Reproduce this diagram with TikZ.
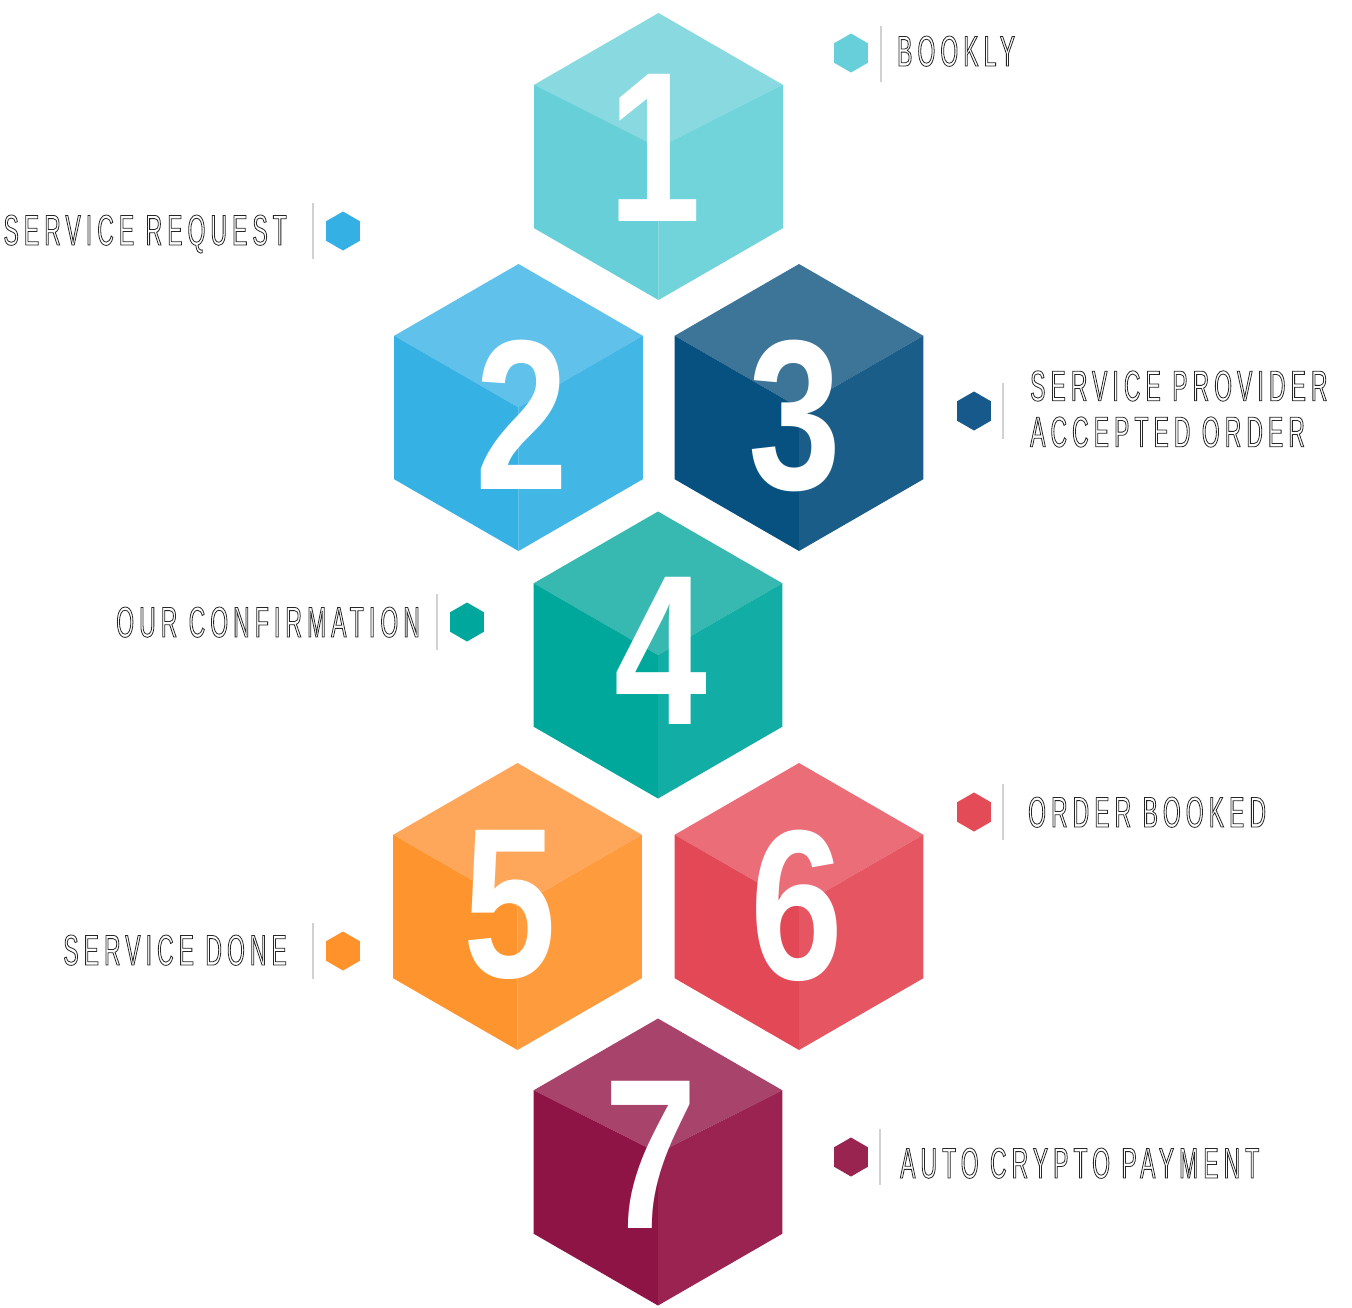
\documentclass[tikz,border=0pt]{standalone}
\usepackage{fontspec}
\usepackage{tikz}
\usetikzlibrary{shapes.geometric}
\newfontfamily\digitfont{Liberation Sans}[FakeStretch=0.78]
\newfontfamily\capfont{Liberation Sans}[FakeStretch=0.53, LetterSpace=12]
% white letters with a thin dark rim
\newcommand{\outlined}[1]{\special{pdf:literal direct 2 Tr 0.8 w 0.15 G}#1\special{pdf:literal direct 0 Tr}}

\definecolor{tealmark}{HTML}{66CFD9}
\definecolor{skymark}{HTML}{35B0E4}
\definecolor{navymark}{HTML}{17598A}
\definecolor{greenmark}{HTML}{00A79C}
\definecolor{orangemark}{HTML}{FF922B}
\definecolor{redmark}{HTML}{E34B56}
\definecolor{plummark}{HTML}{9A2450}

\begin{document}
\begin{tikzpicture}[x=1pt, y=-1pt,
    digit/.style={text=white, font=\digitfont\bfseries\fontsize{214}{214}\selectfont,
                  inner sep=0pt},
    caption/.style={text=white, font=\capfont\fontsize{43}{46}\selectfont,
                    inner sep=0pt, align=left},
    marker/.style={regular polygon, regular polygon sides=6, shape border rotate=90,
                   minimum size=39pt, inner sep=0pt},
    rule/.style={draw=black!18, line width=1.6pt}]
    \fill[white] (0,0) rectangle (1352,1307);
    \useasboundingbox (0,0) rectangle (1352,1307);

    % the seven cubes
    \foreach \cx/\cy/\dy/\ctop/\cleft/\cright in {
        658.5/156.5/-9/88D9E0/66CFD8/71D4DB,
        518.5/407.5/0/60C1EA/35B1E4/42B7E6,
        799/407.5/0/3D7598/075180/1A5D88,
        658/655/0/37B9B1/00A89C/12ADA5,
        517.5/906.5/0/FEA75A/FE942E/FE9C3D,
        799/906.5/0/EA6D78/E24855/E55662,
        658/1162/-9/A8446B/8F1446/9A2352} {
      \definecolor{facetop}{HTML}{\ctop}
      \definecolor{faceleft}{HTML}{\cleft}
      \definecolor{faceright}{HTML}{\cright}
      \fill[facetop] (\cx,\cy-143.5) -- (\cx+124.3,\cy-71.75) -- (\cx,\cy+\dy)
        -- (\cx-124.3,\cy-71.75) -- cycle;
      \fill[faceleft] (\cx-124.3,\cy-71.75) -- (\cx,\cy+\dy) -- (\cx,\cy+143.5)
        -- (\cx-124.3,\cy+71.75) -- cycle;
      \fill[faceright] (\cx,\cy+\dy) -- (\cx+124.3,\cy-71.75) -- (\cx+124.3,\cy+71.75)
        -- (\cx,\cy+143.5) -- cycle;
    }

    \node[digit] (n1) at (655,148)  {1};
    \node[digit] (n2) at (522,415)  {2};
    \node[digit] (n3) at (795,416)  {3};
    \node[digit] (n4) at (661,651)  {4};
    \node[digit] (n5) at (510,905)  {5};
    \node[digit] (n6) at (797,906)  {6};
    \node[digit] (n7) at (651,1155) {7};

    % markers, rules and captions
    \node[marker, fill=tealmark]   (m1) at (851,53)   {};
    \node[marker, fill=skymark]    (m2) at (343,231)  {};
    \node[marker, fill=navymark]   (m3) at (974,411)  {};
    \node[marker, fill=greenmark]  (m4) at (467,622)  {};
    \node[marker, fill=redmark]    (m6) at (974,812)  {};
    \node[marker, fill=orangemark] (m5) at (343,951)  {};
    \node[marker, fill=plummark]   (m7) at (851,1157) {};

    \draw[rule] (881,26)   -- (881,82);
    \draw[rule] (313,203)  -- (313,259);
    \draw[rule] (1003,383) -- (1003,439);
    \draw[rule] (437,594)  -- (437,650);
    \draw[rule] (1003,784) -- (1003,840);
    \draw[rule] (313,923)  -- (313,979);
    \draw[rule] (880,1129) -- (880,1185);

    \node[caption, anchor=base west] (c1) at (897,66)   {\outlined{BOOKLY}};
    \node[caption, anchor=base east] (c2) at (287,245)  {\outlined{SERVICE REQUEST}};
    \node[caption, anchor=west]      (c3) at (1030,409)
      {\outlined{SERVICE PROVIDER}\\\outlined{ACCEPTED ORDER}};
    \node[caption, anchor=base east] (c4) at (420,637)  {\outlined{OUR CONFIRMATION}};
    \node[caption, anchor=base west] (c6) at (1028,827) {\outlined{ORDER BOOKED}};
    \node[caption, anchor=base east] (c5) at (287,965)  {\outlined{SERVICE DONE}};
    \node[caption, anchor=base west] (c7) at (900,1178) {\outlined{AUTO CRYPTO PAYMENT}};
\end{tikzpicture}
\end{document}
